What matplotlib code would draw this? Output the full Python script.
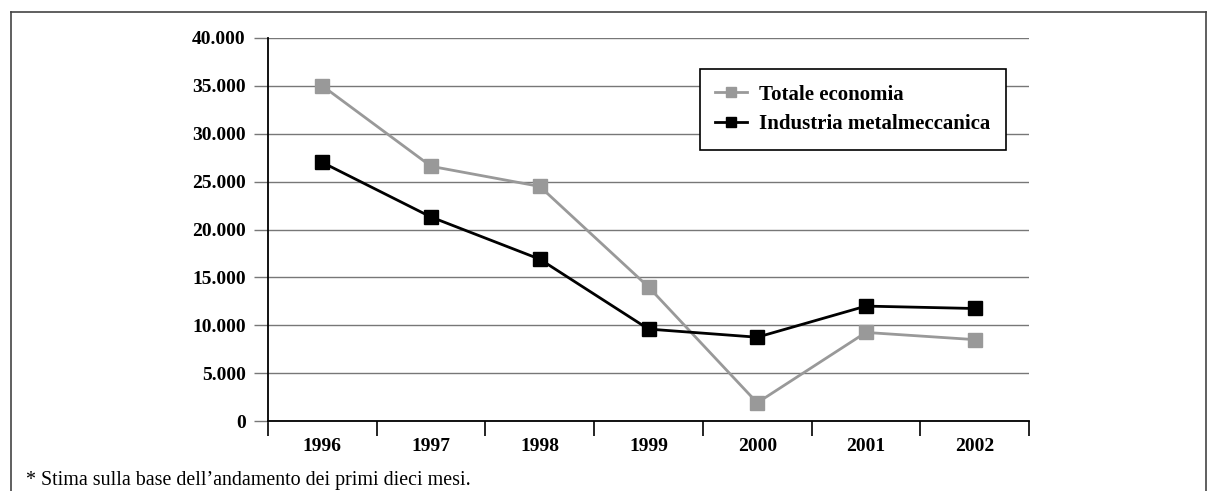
import matplotlib.pyplot as plt
from matplotlib.lines import Line2D
from matplotlib.ticker import FuncFormatter

years = ["1996", "1997", "1998", "1999", "2000", "2001", "2002"]
totale = [35000, 26600, 24500, 14000, 1900, 9250, 8500]
industria = [27000, 21300, 16900, 9600, 8750, 12000, 11750]
yticks = [0, 5000, 10000, 15000, 20000, 25000, 30000, 35000, 40000]

plt.rcParams['font.family'] = ['Liberation Serif', 'DejaVu Serif']

W, H = 1208, 491
fig = plt.figure(figsize=(W / 100, H / 100), dpi=100)
ax = fig.add_axes([268 / W, 1 - 421 / H, (1029 - 268) / W, (421 - 38) / H])

x = list(range(len(years)))
ax.plot(x, totale, color='#999999', lw=2, marker='s', ms=9.5, label='Totale economia')
ax.plot(x, industria, color='black', lw=2, marker='s', ms=9.5, label='Industria metalmeccanica')

ax.set_xlim(-0.5, len(years) - 0.5)
ax.set_ylim(0, 40000)
ax.set_yticks(yticks)
ax.yaxis.set_major_formatter(FuncFormatter(lambda v, p: f"{int(v):,}".replace(",", ".")))
ax.grid(axis='y', color='#777777', lw=1)
ax.set_axisbelow(True)

# tick marks on bin boundaries, labels centred in bins
ax.set_xticks([i - 0.5 for i in range(len(years) + 1)])
ax.set_xticklabels([])
ax.set_xticks(x, minor=True)
ax.set_xticklabels(years, minor=True, fontsize=14, fontweight='bold')
ax.tick_params(axis='x', which='major', direction='out', length=11, width=1.2, color='black')
ax.tick_params(axis='x', which='minor', length=0, pad=12)
ax.tick_params(axis='y', direction='out', length=10, width=1, color='#777777', labelsize=14, pad=6)
for lbl in ax.get_yticklabels():
    lbl.set_fontweight('bold')

for s in ['top', 'right']:
    ax.spines[s].set_visible(False)
ax.spines['left'].set_linewidth(1.3)
ax.spines['bottom'].set_linewidth(1.3)

leg = ax.legend(loc='upper right', bbox_to_anchor=((1006 - 268) / 761, (421 - 69) / 383),
                borderaxespad=0, fancybox=False, edgecolor='black', framealpha=1,
                handlelength=1.5, handletextpad=0.6, markerscale=0.75, borderpad=0.75,
                labelspacing=0.45, prop={'size': 15, 'weight': 'bold'})
leg.get_frame().set_linewidth(1.2)

# outer frame (bottom edge cut off)
frame_kw = dict(color='#444444', lw=1.2, transform=fig.transFigure)
fig.add_artist(Line2D([11 / W, 11 / W], [0, 1 - 12 / H], **frame_kw))
fig.add_artist(Line2D([11 / W, 1206 / W], [1 - 12 / H, 1 - 12 / H], **frame_kw))
fig.add_artist(Line2D([1206 / W, 1206 / W], [0, 1 - 12 / H], **frame_kw))

fig.text(26 / W, 1 - 485 / H, "* Stima sulla base dell\u2019andamento dei primi dieci mesi.",
         fontsize=14.4, va='baseline')

fig.savefig("out.png", dpi=100)
